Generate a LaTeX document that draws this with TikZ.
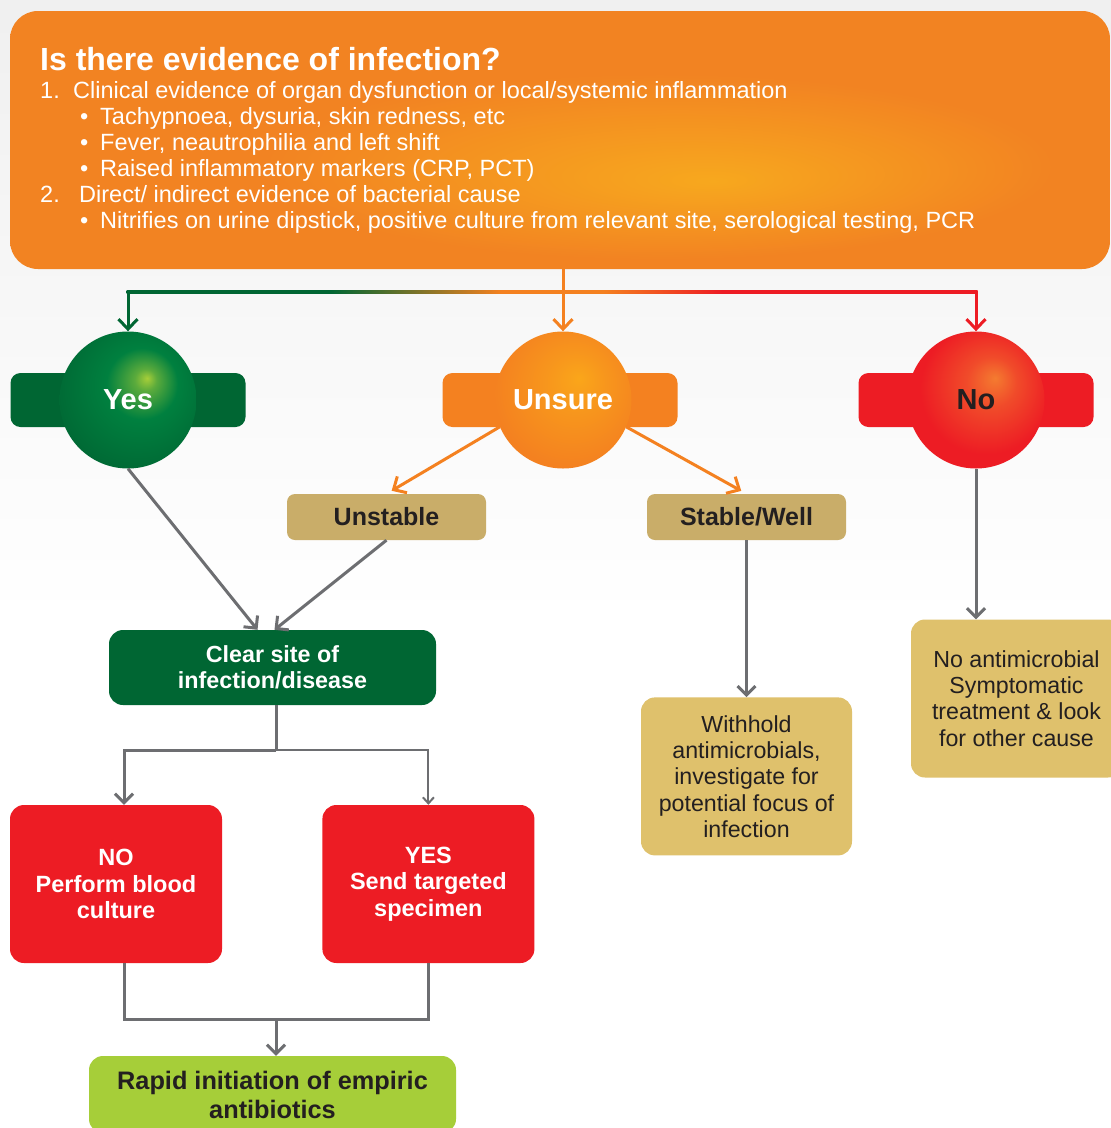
\documentclass[tikz,border=0pt]{standalone}
\usepackage{fontspec}
\setmainfont{Liberation Sans}
\usetikzlibrary{positioning, arrows.meta}

\definecolor{yesdark}{HTML}{006633}
\definecolor{yesgreen}{HTML}{00803F}
\definecolor{yesspot}{HTML}{A6CE39}
\colorlet{yesglow}{yesspot!55!yesgreen}
\definecolor{unorange}{HTML}{F48120}
\definecolor{unspot}{HTML}{FAA61A}
\colorlet{unglow}{unspot!60!unorange}
\definecolor{nored}{HTML}{ED1C24}
\definecolor{nospot}{HTML}{F47B30}
\colorlet{noglow}{nospot!50!nored}
\definecolor{hdorange}{HTML}{F28322}
\definecolor{hdyellow}{HTML}{F7A81E}
\definecolor{tandark}{HTML}{C9AD69}
\definecolor{tanlight}{HTML}{DFC16C}
\definecolor{lime}{HTML}{A6CE39}
\definecolor{txtdark}{HTML}{231F20}
\definecolor{linegray}{HTML}{6D6E71}

\pgfdeclareradialshading{yesball}{\pgfpoint{7bp}{8bp}}{color(0bp)=(yesspot); color(4bp)=(yesglow); color(13bp)=(yesgreen); color(32bp)=(yesdark); color(50bp)=(yesdark)}
\pgfdeclareradialshading{unsball}{\pgfpoint{6bp}{8bp}}{color(0bp)=(unspot); color(10bp)=(unglow); color(28bp)=(unorange); color(50bp)=(unorange)}
\pgfdeclareradialshading{noball}{\pgfpoint{7bp}{8bp}}{color(0bp)=(nospot); color(9bp)=(noglow); color(24bp)=(nored); color(50bp)=(nored)}
\pgfdeclareradialshading{qglow}{\pgfpoint{7bp}{-8bp}}{color(0bp)=(hdyellow); color(18bp)=(hdorange); color(50bp)=(hdorange)}
\pgfdeclarehorizontalshading{linkbar}{100bp}{color(0bp)=(yesdark); color(37bp)=(yesdark); color(47bp)=(unorange); color(53bp)=(unorange); color(60bp)=(nored); color(100bp)=(nored)}

\tikzset{
	qbox/.style={rectangle, rounded corners=28, minimum width=1100, minimum height=258, shade, shading=qglow},
	qtext/.style={anchor=base west, inner sep=0pt, text=white, font=\fontsize{23.5}{26}\selectfont},
	ball/.style={circle, minimum size=137, inner sep=0pt, shade, font=\bfseries\fontsize{29}{29}\selectfont},
	bar/.style={rectangle, rounded corners=10, minimum width=235, minimum height=54},
	% tan boxes under Unsure
	tanbox/.style={rectangle, rounded corners=8, minimum width=199, minimum height=46, fill=tandark, text=txtdark, font=\bfseries\fontsize{25}{29}\selectfont},
	greenbox/.style={rectangle, rounded corners=14, minimum width=327, minimum height=75, fill=yesdark, text=white, align=center, font=\bfseries\fontsize{23.3}{26}\selectfont},
	redbox/.style={rectangle, rounded corners=14, minimum width=212, minimum height=158, fill=nored, text=white, align=center, font=\bfseries\fontsize{23.5}{26.5}\selectfont},
	limebox/.style={rectangle, rounded corners=14, minimum width=367, minimum height=77, fill=lime, text=txtdark, align=center, font=\bfseries\fontsize{25.3}{29}\selectfont},
	advice/.style={rectangle, rounded corners=14, minimum width=211, minimum height=158, fill=tanlight, text=txtdark, align=center, font=\fontsize{23.2}{26.3}\selectfont},
}

\begin{document}
\begin{tikzpicture}[x=1pt, y=-1pt]
	\useasboundingbox (0,0) rectangle (1111,1128);
	\fill[white] (0,0) rectangle (1111,1128);
	\fill[top color=black!6, bottom color=white] (0,0) rectangle (1111,620);
	
	% question box
	\node (q) [qbox] at (560,140) {};
	\node (qt) [qtext, font=\bfseries\fontsize{32}{32}\selectfont] at (40,70) {Is there evidence of infection?};
	\node (n1) [qtext] at (40,98) {1.};
	\node (i1) [qtext] at (73,98) {Clinical evidence of organ dysfunction or local/systemic inflammation};
	\node (b1) [qtext] at (80,124) {•};
	\node (i1a) [qtext] at (100,124) {Tachypnoea, dysuria, skin redness, etc};
	\node (b2) [qtext] at (80,150) {•};
	\node (i1b) [qtext] at (100,150) {Fever, neautrophilia and left shift};
	\node (b3) [qtext] at (80,176) {•};
	\node (i1c) [qtext] at (100,176) {Raised inflammatory markers (CRP, PCT)};
	\node (n2) [qtext] at (40,202) {2.};
	\node (i2) [qtext] at (79,202) {Direct/ indirect evidence of bacterial cause};
	\node (b4) [qtext] at (80,228) {•};
	\node (i2a) [qtext] at (100,228) {Nitrifies on urine dipstick, positive culture from relevant site, serological testing, PCR};
	
	% answers
	\node (ybar) [bar, fill=yesdark] at (128,400) {};
	\node (yes) [ball, shading=yesball, text=white] at (ybar) {Yes};
	\node (ubar) [bar, fill=unorange] at (560,400) {};
	\node (uns) [ball, shading=unsball, text=white] at (563,400) {Unsure};
	\node (nbar) [bar, fill=nored] at (976,400) {};
	\node (no) [ball, shading=noball, text=txtdark] at (nbar) {No};
	
	\node (unst) [tanbox] at (386.5,517) {Unstable};
	\node (stab) [tanbox] at (746.5,517) {Stable/Well};
	\node (clr) [greenbox] at (272.5,667.5) {Clear site of\\infection/disease};
	\node (nbc) [redbox] at (116,884) {NO\\Perform blood\\culture};
	\node (yts) [redbox, right=100pt of nbc] {YES\\Send targeted\\specimen};
	\node (emp) [limebox] at (272.5,1094.5) {Rapid initiation of empiric\\antibiotics};
	\node (wh) [advice, below=157pt of stab] {Withhold\\antimicrobials,\\investigate for\\potential focus of\\infection};
	\node (nam) [advice] at (1016.5,698.5) {No antimicrobial\\Symptomatic\\treatment \& look\\for other cause};
	
	\coordinate (split) at (563,292);
	\coordinate (fork) at (276,750);
	\coordinate (join) at (276,1019);
	
	\shade[shading=linkbar] ([xshift=-1.5pt, yshift=1.5pt]yes |- split) rectangle ([xshift=1.5pt, yshift=-1.5pt]no |- split);
	
	\begin{scope}[line width=3pt, ->, >={Straight Barb[length=10pt, width=19pt]}]
		\draw[yesdark] (yes |- split) -- (yes.north);
		\draw[unorange] (q.south -| split) -- (uns.north);
		\draw[nored] (no |- split) -- (no.north);
		\draw[unorange, shorten >=6pt] (uns.203) -- (unst.north);
		\draw[unorange, shorten >=6pt] (uns.337) -- (stab.north);
	\end{scope}
	
	\begin{scope}[line width=3pt, linegray, ->, >={Straight Barb[length=9pt, width=18pt]}]
		\draw (yes.south) -- ([xshift=-15pt]clr.north);
		\draw (unst.south) -- ([xshift=2pt]clr.north);
		\draw[-] (clr.south -| fork) -- (fork);
		\draw (fork) -| ([xshift=8pt]nbc.north);
		\draw[line width=2pt, >={Straight Barb[length=6pt, width=11pt]}] (fork) -| (yts.north);
		\draw[-] ([xshift=8pt]nbc.south) |- (join) -| (yts.south);
		\draw (join) -- (join |- emp.north);
		\draw (stab.south) -- (stab.south |- wh.north);
		\draw (no.south) -- (no.south |- nam.north);
	\end{scope}
	
\end{tikzpicture}
\end{document}
